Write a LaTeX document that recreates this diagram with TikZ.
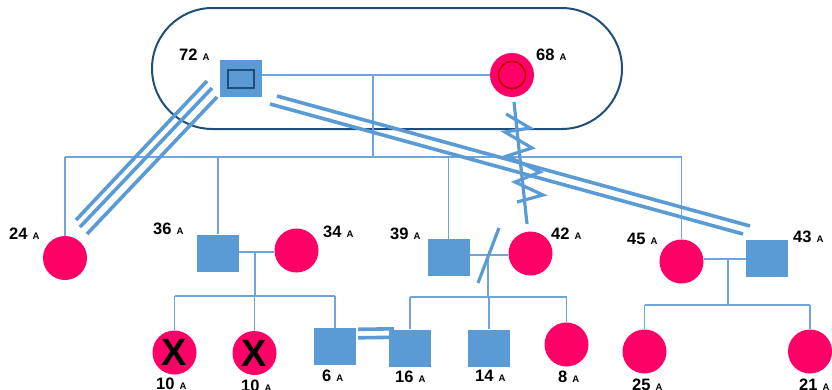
\documentclass[tikz,border=0pt]{standalone}
\usepackage{fontspec}
\setmainfont{Liberation Sans}
\usetikzlibrary{calc}

\definecolor{fpink}{HTML}{FF0066}
\definecolor{mblue}{HTML}{5B9BD5}
\definecolor{kline}{HTML}{6FA5DC}
\definecolor{navy}{HTML}{1F4E79}
\definecolor{dred}{HTML}{C00000}

% age label: bold number followed by a small bold "A"
\newcommand{\agelbl}[1]{{\fontsize{16.5}{16.5}\selectfont\bfseries #1}\hspace{5pt}{\fontsize{9.5}{9.5}\selectfont\bfseries A}}

\tikzset{
  male/.style={rectangle, fill=mblue, draw=none, minimum width=42pt, minimum height=37pt, inner sep=0pt},
  female/.style={circle, fill=fpink, draw=none, minimum size=44pt, inner sep=0pt},
  kin/.style={draw=kline, line width=1.4pt},
  bond/.style={draw=mblue, line width=3.6pt},
  lbl/.style={anchor=base west, inner sep=0pt, text=black},
  cross/.style={font=\fontsize{38}{38}\selectfont\bfseries, text=black, inner sep=0pt}
}

\begin{document}
\begin{tikzpicture}[x=1pt,y=-1pt]
\useasboundingbox (0,0) rectangle (832,389);

% household enclosure
\draw[navy, line width=2pt, rounded corners=60.5pt] (152,8) rectangle (622,129);

% people
\node[male]   (p72) at (241,78.5) {};
\node[female] (p68) at (512,75) {};
\node[female] (p24) at (65,258) {};
\node[male]   (p36) at (218,253) {};
\node[female] (p34) at (296.5,250.5) {};
\node[male]   (p39) at (448.5,257.5) {};
\node[female] (p42) at (530.5,253.5) {};
\node[female] (p45) at (681.5,261.5) {};
\node[male]   (p43) at (767,258.5) {};
\node[female] (c10a) at (174.5,352.5) {};
\node[female] (c10b) at (254.5,353) {};
\node[male]   (p6)  at (335,346.5) {};
\node[male]   (p16) at (410,348) {};
\node[male]   (p14) at (489,348) {};
\node[female] (p8)  at (566.5,344.5) {};
\node[female] (p25) at (644.5,351.5) {};
\node[female] (p21) at (810,351.5) {};

% index person markers
\node[draw=navy, line width=2pt, minimum width=26pt, minimum height=18pt, inner sep=0pt] (p72in) at (p72) {};
\node[circle, draw=dred, line width=1.6pt, minimum size=27pt, inner sep=0pt] (p68in) at (p68) {};

% deceased marks
\node[cross] (x10a) at (c10a) {X};
\node[cross] (x10b) at (c10b) {X};

% couple 72 + 68 and their children
\coordinate (m1) at (373,75);
\coordinate (s1) at (373,157);
\draw[kin] (p72.east |- p68.west) -- (p68.west);
\draw[kin] (m1) -- (s1);
\draw[kin] (p24.north |- s1) -- (p45.north |- s1);
\foreach \c in {p24,p36,p39,p45} \draw[kin] (\c.north |- s1) -- (\c.north);

% couple 36 + 34 and their children
\coordinate (m2) at (255,252);
\coordinate (s2) at (255,296);
\draw[kin] (p36.east |- m2) -- (p34.west |- m2);
\draw[kin] (m2) -- (s2);
\draw[kin] (c10a.north |- s2) -- (p6.north |- s2);
\foreach \c in {c10a,c10b,p6} \draw[kin] (\c.north |- s2) -- (\c.north);

% couple 39 + 42 (separated) and their children
\coordinate (m3) at (488,255);
\coordinate (s3) at (488,297);
\draw[kin] (p39.east |- m3) -- (p42.west |- m3);
\draw[kin] (m3) -- (s3);
\draw[kin] (p16.north |- s3) -- (p8.north |- s3);
\foreach \c in {p16,p14,p8} \draw[kin] (\c.north |- s3) -- (\c.north);
\coordinate (sepA) at (499,228);
\coordinate (sepB) at (478,283);
\draw[bond, line width=3.2pt] (sepA) -- (sepB);

% couple 45 + 43 and their children
\coordinate (m4) at (728,259);
\coordinate (s4) at (728,305);
\draw[kin] (p45.east |- m4) -- (p43.west |- m4);
\draw[kin] (m4) -- (s4);
\draw[kin] (p25.north |- s4) -- (p21.north |- s4);
\foreach \c in {p25,p21} \draw[kin] (\c.north |- s4) -- (\c.north);

% very close bond 72 -- 24
\coordinate (ta1) at (207,81);  \coordinate (tb1) at (76,220);
\coordinate (ta2) at (212,88);  \coordinate (tb2) at (80,227);
\coordinate (ta3) at (217,97);  \coordinate (tb3) at (87,234);
\draw[bond] (ta1) -- (tb1);
\draw[bond] (ta2) -- (tb2);
\draw[bond] (ta3) -- (tb3);

% close bond 72 -- 43
\coordinate (da1) at (277,96);  \coordinate (db1) at (750,226);
\coordinate (da2) at (270,104); \coordinate (db2) at (743,234);
\draw[bond] (da1) -- (db1);
\draw[bond] (da2) -- (db2);

% close bond 6 -- 16
\draw[bond] ($(p6.north east)+(2,1.5)$) -- ($(p16.north west)+(5,-0.5)$);
\draw[bond] ($(p6.north east)+(2,10)$) -- ($(p16.north west)+(5,8)$);

% conflicted relationship 68 -- 42
\coordinate (zt) at (514,102);
\coordinate (zb) at (527,224);
\draw[bond, line width=3.2pt] (zt) -- (zb);
\draw[bond, line width=3.2pt, line join=miter]
  (506,114) -- (530,128) -- (505,132) -- (532,148) -- (507,156)
  -- (540,172) -- (515,182) -- (543,195) -- (517,202);

% age labels
\node[lbl] (l72) at (179,60)  {\agelbl{72}};
\node[lbl] (l68) at (536,60)  {\agelbl{68}};
\node[lbl] (l24) at (9,239)   {\agelbl{24}};
\node[lbl] (l36) at (153,234) {\agelbl{36}};
\node[lbl] (l34) at (323,237) {\agelbl{34}};
\node[lbl] (l39) at (390,239) {\agelbl{39}};
\node[lbl] (l42) at (551,239) {\agelbl{42}};
\node[lbl] (l45) at (627,244) {\agelbl{45}};
\node[lbl] (l43) at (793,242) {\agelbl{43}};
\node[lbl] (l10a) at (156,389) {\agelbl{10}};
\node[lbl] (l10b) at (241,391) {\agelbl{10}};
\node[lbl] (l6)  at (322,381) {\agelbl{6}};
\node[lbl] (l16) at (395,382) {\agelbl{16}};
\node[lbl] (l14) at (475,381) {\agelbl{14}};
\node[lbl] (l8)  at (558,382) {\agelbl{8}};
\node[lbl] (l25) at (632,390) {\agelbl{25}};
\node[lbl] (l21) at (799,390) {\agelbl{21}};
\end{tikzpicture}
\end{document}
